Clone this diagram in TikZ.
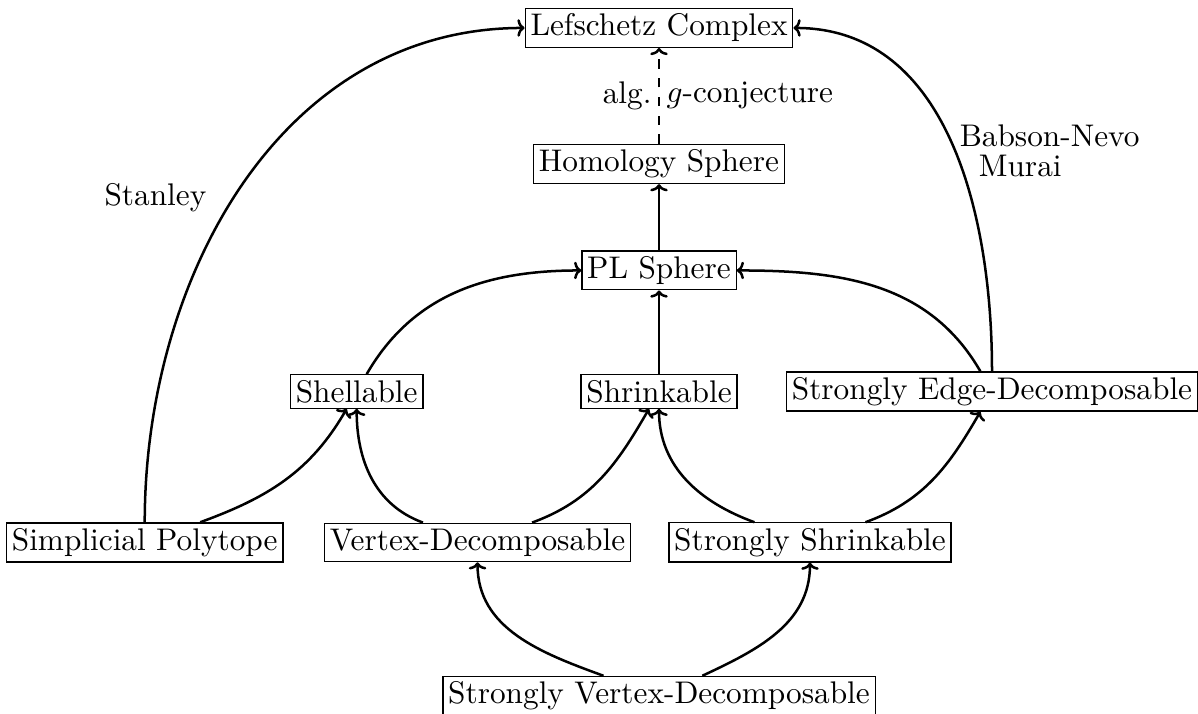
\documentclass[tikz,border=0pt]{standalone}
\usetikzlibrary{arrows.meta}
\begin{document}
\begin{tikzpicture}[box/.style={draw,inner sep=1.7pt},imp/.style={-{To[width=5.6pt,length=2.3pt]},thick}]
	\useasboundingbox (0,0) rectangle (13.452,-8.017);
	\node[box] (lef) at (7.40,-0.314) {Lefschetz Complex};
	\node[box] (hom) at (7.40,-1.841) {Homology Sphere};
	\node[box] (pl) at (7.40,-3.037) {PL Sphere};
	\node[box] (shell) at (4.005,-4.396) {Shellable};
	\node[box] (shrink) at (7.40,-4.396) {Shrinkable};
	\node[box] (sed) at (11.139,-4.396) {Strongly Edge-Decomposable};
	\node[box] (poly) at (1.625,-6.091) {Simplicial Polytope};
	\node[box] (vd) at (5.362,-6.091) {Vertex-Decomposable};
	\node[box] (ss) at (9.095,-6.091) {Strongly Shrinkable};
	\node[box] (svd) at (7.40,-7.815) {Strongly Vertex-Decomposable};
	\draw[imp,dashed] (hom) -- node[left,inner sep=2pt] {alg.} node[right,inner sep=2pt] {$g$-conjecture} (lef);
	\draw[imp] (pl) -- (hom);
	\draw[imp] (shrink) -- (pl);
	\draw[imp] (shell) to[out=60,in=180] (pl);
	\draw[imp] (sed) to[out=120,in=0] (pl);
	\draw[imp] (poly) to[out=90,in=180] node[pos=0.475,left=5pt] {Stanley} (lef);
	\draw[imp] (sed) to[out=90,in=0] node[pos=0.515,right=2.33pt,inner sep=1pt] {Babson-Nevo} node[pos=0.44,right=4.33pt,inner sep=1pt] {Murai} (lef);
	\draw[imp] (poly) to[out=20,in=-120] (shell);
	\draw[imp] (vd) to[out=160,in=-90] (shell);
	\draw[imp] (vd) to[out=20,in=-120] (shrink);
	\draw[imp] (ss) to[out=160,in=-90] (shrink);
	\draw[imp] (ss) to[out=20,in=-120] (sed);
	\draw[imp] (svd) to[out=160,in=-90] (vd);
	\draw[imp] (svd) to[out=25,in=-90] (ss);
\end{tikzpicture}
\end{document}
